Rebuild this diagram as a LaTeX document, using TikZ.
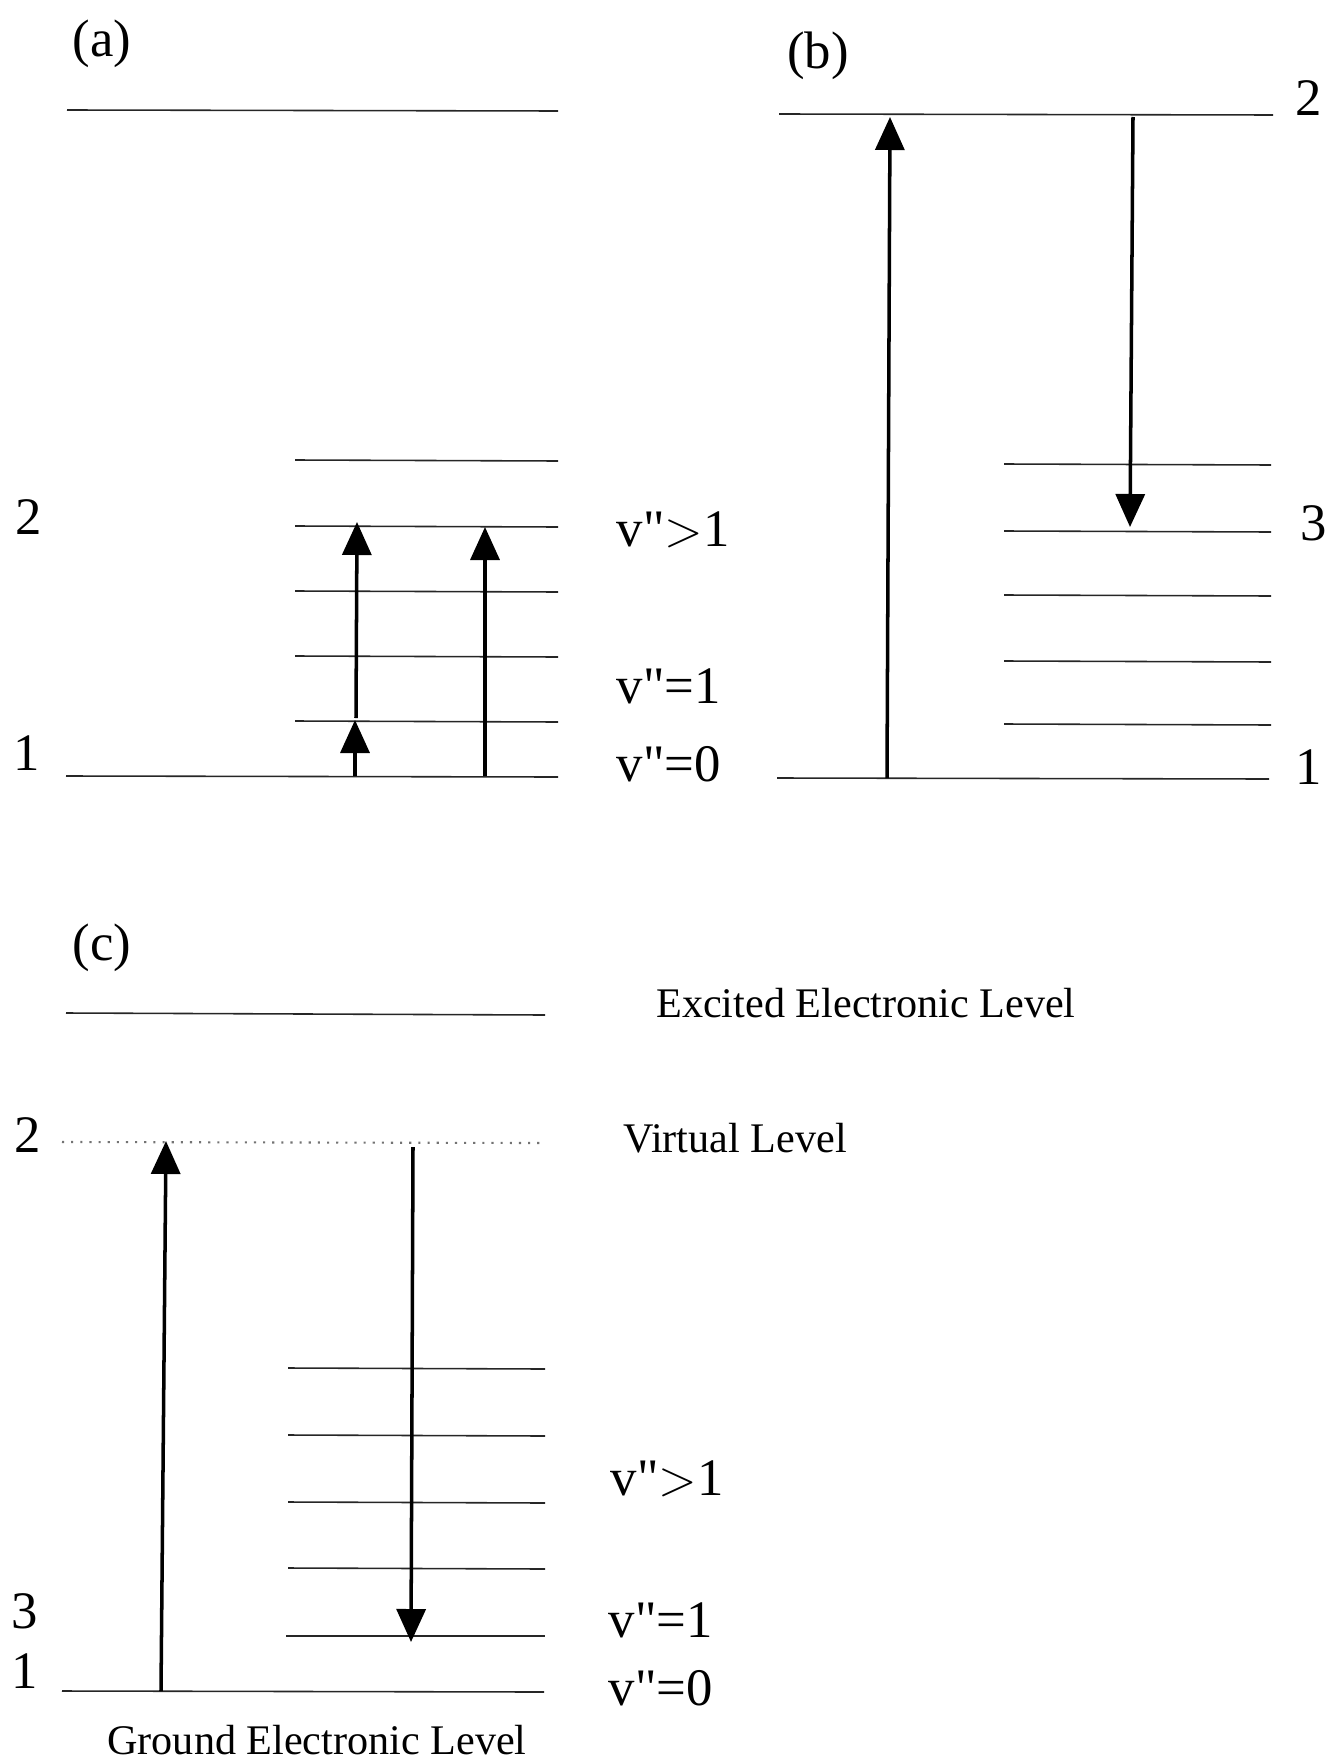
\documentclass[tikz,border=0pt]{standalone}
\usepackage{fontspec}
\setmainfont{Liberation Serif}
\newfontfamily\labfont{Liberation Serif}
\usepackage{tikz}
\usetikzlibrary{arrows.meta}

\begin{document}
\begin{tikzpicture}[
    lvl/.style={line width=0.45pt, black!85},
    virt/.style={line width=0.6pt, black!55, dash pattern=on 0.6pt off 2pt},
    trans/.style={line width=1pt, -{Triangle[width=0.29cm,length=0.33cm]}},
    big/.style={inner sep=0pt, font=\labfont\fontsize{15}{18}\selectfont},
    txt/.style={inner sep=0pt, font=\fontsize{12}{14}\selectfont}]
  \useasboundingbox (0,0) rectangle (13.32,-17.58);

  % (a)
  \node[big] (a-tag) at (1.02,-0.44) {(a)};
  \coordinate (a-e1) at (0.67,-1.10); \coordinate (a-e2) at (5.58,-1.11);
  \draw[lvl] (a-e1) -- (a-e2);
  \coordinate (a-v5l) at (2.95,-4.60); \coordinate (a-v5r) at (5.58,-4.61);
  \coordinate (a-v4l) at (2.95,-5.26); \coordinate (a-v4r) at (5.58,-5.27);
  \coordinate (a-v3l) at (2.95,-5.91); \coordinate (a-v3r) at (5.58,-5.92);
  \coordinate (a-v2l) at (2.95,-6.56); \coordinate (a-v2r) at (5.58,-6.57);
  \coordinate (a-v1l) at (2.95,-7.21); \coordinate (a-v1r) at (5.58,-7.22);
  \draw[lvl] (a-v5l) -- (a-v5r);
  \draw[lvl] (a-v4l) -- (a-v4r);
  \draw[lvl] (a-v3l) -- (a-v3r);
  \draw[lvl] (a-v2l) -- (a-v2r);
  \draw[lvl] (a-v1l) -- (a-v1r);
  \coordinate (a-g1) at (0.66,-7.76); \coordinate (a-g2) at (5.58,-7.77);
  \draw[lvl] (a-g1) -- (a-g2);
  \node[big] (a-two) at (0.29,-5.17) {2};
  \node[big] (a-one) at (0.27,-7.53) {1};
  \node[big, anchor=base west] (a-vgt) at (6.16,-5.46) {v"$>$1};
  \node[big, anchor=base west] (a-vone) at (6.16,-7.03) {v"=1};
  \node[big, anchor=base west] (a-vzero) at (6.16,-7.81) {v"=0};
  \coordinate (a-p1) at (3.55,-7.76); \coordinate (a-p2) at (3.55,-7.20);
  \coordinate (a-p3) at (3.56,-7.18); \coordinate (a-p4) at (3.57,-5.22);
  \coordinate (a-q1) at (4.85,-7.76); \coordinate (a-q2) at (4.85,-5.27);
  \draw[trans] (a-p1) -- (a-p2);
  \draw[trans] (a-p3) -- (a-p4);
  \draw[trans] (a-q1) -- (a-q2);

  % (b)
  \begin{scope}[shift={(7,0)}]
  \node[big] (b-tag) at (1.18,-0.56) {(b)};
  \coordinate (b-e1) at (0.79,-1.14); \coordinate (b-e2) at (5.73,-1.15);
  \draw[lvl] (b-e1) -- (b-e2);
  \coordinate (b-v5l) at (3.04,-4.64); \coordinate (b-v5r) at (5.71,-4.65);
  \coordinate (b-v4l) at (3.04,-5.31); \coordinate (b-v4r) at (5.71,-5.32);
  \coordinate (b-v3l) at (3.04,-5.95); \coordinate (b-v3r) at (5.71,-5.96);
  \coordinate (b-v2l) at (3.04,-6.61); \coordinate (b-v2r) at (5.71,-6.62);
  \coordinate (b-v1l) at (3.04,-7.24); \coordinate (b-v1r) at (5.71,-7.25);
  \draw[lvl] (b-v5l) -- (b-v5r);
  \draw[lvl] (b-v4l) -- (b-v4r);
  \draw[lvl] (b-v3l) -- (b-v3r);
  \draw[lvl] (b-v2l) -- (b-v2r);
  \draw[lvl] (b-v1l) -- (b-v1r);
  \coordinate (b-g1) at (0.77,-7.78); \coordinate (b-g2) at (5.69,-7.79);
  \draw[lvl] (b-g1) -- (b-g2);
  \node[big] (b-two) at (6.09,-0.98) {2};
  \node[big] (b-three) at (6.14,-5.23) {3};
  \node[big] (b-one) at (6.09,-7.67) {1};
  \coordinate (b-p1) at (1.87,-7.78); \coordinate (b-p2) at (1.90,-1.17);
  \coordinate (b-q1) at (4.33,-1.17); \coordinate (b-q2) at (4.30,-5.27);
  \draw[trans] (b-p1) -- (b-p2);
  \draw[trans] (b-q1) -- (b-q2);
  \end{scope}

  % (c)
  \begin{scope}[shift={(0,-9)}]
  \node[big] (c-tag) at (1.02,-0.48) {(c)};
  \coordinate (c-e1) at (0.66,-1.13); \coordinate (c-e2) at (5.45,-1.15);
  \draw[lvl] (c-e1) -- (c-e2);
  \node[txt] (c-exc) at (8.66,-1.03) {Excited Electronic Level};
  \coordinate (c-s1) at (0.62,-2.42); \coordinate (c-s2) at (5.42,-2.43);
  \draw[virt] (c-s1) -- (c-s2);
  \node[txt] (c-virt) at (7.35,-2.38) {Virtual Level};
  \coordinate (c-v5l) at (2.88,-4.68); \coordinate (c-v5r) at (5.45,-4.69);
  \coordinate (c-v4l) at (2.88,-5.35); \coordinate (c-v4r) at (5.45,-5.36);
  \coordinate (c-v3l) at (2.88,-6.02); \coordinate (c-v3r) at (5.45,-6.03);
  \coordinate (c-v2l) at (2.88,-6.68); \coordinate (c-v2r) at (5.45,-6.69);
  \coordinate (c-v1l) at (2.86,-7.36); \coordinate (c-v1r) at (5.45,-7.36);
  \draw[lvl] (c-v5l) -- (c-v5r);
  \draw[lvl] (c-v4l) -- (c-v4r);
  \draw[lvl] (c-v3l) -- (c-v3r);
  \draw[lvl] (c-v2l) -- (c-v2r);
  \draw[lvl] (c-v1l) -- (c-v1r);
  \coordinate (c-g1) at (0.62,-7.91); \coordinate (c-g2) at (5.44,-7.92);
  \draw[lvl] (c-g1) -- (c-g2);
  \node[txt, anchor=base] (c-gnd) at (3.17,-8.54) {Ground Electronic Level};
  \node[big] (c-two) at (0.28,-2.35) {2};
  \node[big] (c-three) at (0.25,-7.11) {3};
  \node[big] (c-one) at (0.25,-7.71) {1};
  \node[big, anchor=base west] (c-vgt) at (6.10,-5.95) {v"$>$1};
  \node[big, anchor=base west] (c-vone) at (6.08,-7.37) {v"=1};
  \node[big, anchor=base west] (c-vzero) at (6.08,-8.05) {v"=0};
  \coordinate (c-p1) at (1.61,-7.91); \coordinate (c-p2) at (1.66,-2.41);
  \coordinate (c-q1) at (4.13,-2.47); \coordinate (c-q2) at (4.11,-7.42);
  \draw[trans] (c-p1) -- (c-p2);
  \draw[trans] (c-q1) -- (c-q2);
  \end{scope}
\end{tikzpicture}
\end{document}
